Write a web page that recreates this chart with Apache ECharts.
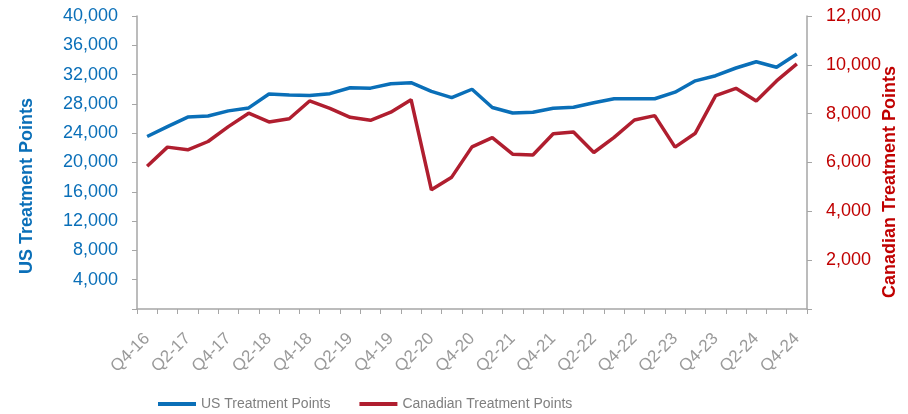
<!DOCTYPE html>
<html>
<head>
<meta charset="utf-8">
<script src="https://cdn.jsdelivr.net/npm/echarts@6/dist/echarts.min.js"></script>
<style>
  html, body { margin: 0; padding: 0; background: #fff; }
  #chart { width: 908px; height: 414px; }
</style>
</head>
<body>
<div id="chart"></div>
<script>
var quarters = [
    'Q4-16', 'Q1-17', 'Q2-17', 'Q3-17', 'Q4-17', 'Q1-18', 'Q2-18', 'Q3-18', 'Q4-18',
    'Q1-19', 'Q2-19', 'Q3-19', 'Q4-19', 'Q1-20', 'Q2-20', 'Q3-20', 'Q4-20',
    'Q1-21', 'Q2-21', 'Q3-21', 'Q4-21', 'Q1-22', 'Q2-22', 'Q3-22', 'Q4-22',
    'Q1-23', 'Q2-23', 'Q3-23', 'Q4-23', 'Q1-24', 'Q2-24', 'Q3-24', 'Q4-24'
];
var usPoints = [
    23550, 24900, 26200, 26350, 27050, 27450, 29350, 29200, 29150,
    29400, 30200, 30150, 30750, 30900, 29700, 28850, 30000,
    27500, 26750, 26850, 27400, 27550, 28150, 28700, 28700,
    28700, 29600, 31150, 31850, 32900, 33750, 33000, 34800
];
var canadaPoints = [
    5850, 6630, 6520, 6860, 7470, 8020, 7660, 7790, 8520,
    8220, 7850, 7730, 8060, 8570, 4880, 5400, 6640,
    7020, 6340, 6310, 7180, 7250, 6410, 7030, 7740,
    7920, 6630, 7200, 8740, 9040, 8520, 9340, 10040
];
var usTicks = [0, 4000, 8000, 12000, 16000, 20000, 24000, 28000, 32000, 36000, 40000];
var canadaTicks = [0, 2000, 4000, 6000, 8000, 10000, 12000];

var font = '"Liberation Sans", Arial, sans-serif';
var blue = '#0A6FB8';
var red = '#B01E2F';
var axisGray = '#A6A6A6';

// 0 is not labelled on either axis
function fmt(v) {
    if (v === 0) return '';
    return v.toLocaleString('en-US');
}

var chart = echarts.init(document.getElementById('chart'));
chart.setOption({
    animation: false,
    textStyle: { fontFamily: font },
    grid: { left: 137, right: 101, top: 16, bottom: 105 },
    legend: {
        left: 153,
        top: 392,
        itemWidth: 38,
        itemHeight: 4,
        itemGap: 29,
        icon: 'rect',
        textStyle: { fontFamily: font, fontSize: 14, color: '#7F7F7F' },
        data: ['US Treatment Points', 'Canadian Treatment Points']
    },
    xAxis: {
        type: 'category',
        data: quarters,
        boundaryGap: true,
        axisLine: { lineStyle: { color: axisGray, width: 1.5 } },
        axisTick: { show: true, interval: 0, length: 5, lineStyle: { color: axisGray } },
        axisLabel: {
            interval: 1,
            rotate: 45,
            fontFamily: font,
            fontSize: 17,
            color: '#9A9A9A',
            margin: 27
        }
    },
    yAxis: [{
        type: 'value',
        min: usTicks[0],
        max: usTicks[usTicks.length - 1],
        interval: 4000,
        position: 'left',
        splitLine: { show: false },
        axisLine: { show: true, lineStyle: { color: axisGray, width: 1.5 } },
        axisTick: { show: true, length: 5, lineStyle: { color: axisGray } },
        axisLabel: { formatter: fmt, fontFamily: font, fontSize: 18, color: blue, margin: 19 }
    }, {
        type: 'value',
        min: canadaTicks[0],
        max: canadaTicks[canadaTicks.length - 1],
        interval: 2000,
        position: 'right',
        splitLine: { show: false },
        axisLine: { show: true, lineStyle: { color: axisGray, width: 1.5 } },
        axisTick: { show: true, length: 5, lineStyle: { color: axisGray } },
        axisLabel: { formatter: fmt, fontFamily: font, fontSize: 18, color: '#C00000', margin: 19 }
    }],
    graphic: [{
        type: 'text',
        x: 27,
        y: 186,
        rotation: Math.PI / 2,
        style: {
            text: 'US Treatment Points',
            fill: blue,
            font: 'bold 18px ' + font,
            align: 'center',
            verticalAlign: 'middle'
        }
    }, {
        type: 'text',
        x: 890,
        y: 182,
        rotation: Math.PI / 2,
        style: {
            text: 'Canadian Treatment Points',
            fill: '#C00000',
            font: 'bold 18px ' + font,
            align: 'center',
            verticalAlign: 'middle'
        }
    }],
    series: [{
        name: 'US Treatment Points',
        type: 'line',
        yAxisIndex: 0,
        data: usPoints,
        symbol: 'none',
        lineStyle: { color: blue, width: 3.5 },
        itemStyle: { color: blue }
    }, {
        name: 'Canadian Treatment Points',
        type: 'line',
        yAxisIndex: 1,
        data: canadaPoints,
        symbol: 'none',
        lineStyle: { color: red, width: 3.5 },
        itemStyle: { color: red }
    }]
});
</script>
</body>
</html>
